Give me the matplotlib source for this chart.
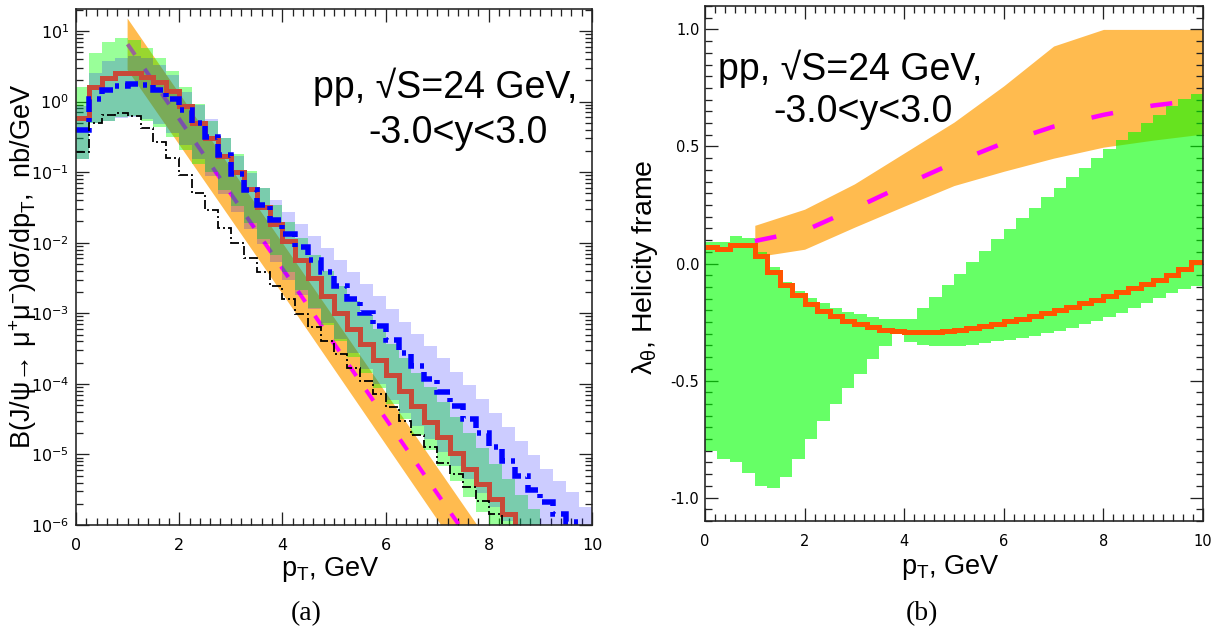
import numpy as np
import matplotlib
matplotlib.use("Agg")
import matplotlib.pyplot as plt
from matplotlib.ticker import LogLocator, NullFormatter, MultipleLocator

plt.rcParams["font.family"] = ["Liberation Sans", "DejaVu Sans"]
plt.rcParams["mathtext.default"] = "regular"
plt.rcParams["lines.scale_dashes"] = False

PX = 72 / 100  # points per pixel at dpi=100

# pT bins, GeV
pt_edges = np.arange(0, 10.001, 0.25)

# ---- panel (a): log10 of B*dsigma/dpT, nb/GeV, per 0.25 GeV bin ----
red_log = [-0.24, 0.20, 0.33, 0.41, 0.41, 0.35, 0.28, 0.15, -0.06, -0.30,
           -0.52, -0.77, -1.00, -1.24, -1.49, -1.74, -1.98, -2.24, -2.50, -2.75,
           -3.00, -3.22, -3.44, -3.66, -3.88, -4.10, -4.32, -4.54, -4.76, -4.98,
           -5.20, -5.42, -5.63, -5.85, -6.07, -6.28, -6.50, -6.70, -6.90, -7.10]
blue_log = [-0.40, 0.04, 0.16, 0.22, 0.25, 0.24, 0.16, 0.04, -0.12, -0.30,
            -0.50, -0.76, -1.02, -1.26, -1.47, -1.68, -1.88, -2.06, -2.24, -2.42,
            -2.61, -2.80, -2.99, -3.18, -3.38, -3.57, -3.75, -3.93, -4.12, -4.32,
            -4.50, -4.70, -4.90, -5.10, -5.30, -5.50, -5.68, -5.84, -5.96, -6.20]
black_log = [-0.72, -0.30, -0.19, -0.16, -0.21, -0.37, -0.58, -0.80, -1.04, -1.29,
             -1.53, -1.79, -2.00, -2.21, -2.42, -2.62, -2.80, -3.01, -3.19, -3.40,
             -3.58, -3.77, -3.96, -4.15, -4.33, -4.53, -4.72, -4.90, -5.12, -5.28,
             -5.46, -5.66, -5.85, -6.30, -6.50, -6.70, -6.90, -7.10, -7.30, -7.50]

green_hi = [0.21, 0.69, 0.84, 0.90, 0.87, 0.76, 0.62, 0.43, 0.20, -0.04,
            -0.27, -0.52, -0.75, -0.99, -1.23, -1.47, -1.70, -1.94, -2.17, -2.40,
            -2.62, -2.83, -3.03, -3.23, -3.43, -3.64, -3.84, -4.05, -4.26, -4.47,
            -4.69, -4.91, -5.13, -5.35, -5.57, -5.78, -6.00, -6.20, -6.40, -6.60]
green_lo = [-0.82, -0.31, -0.28, -0.22, -0.20, -0.27, -0.36, -0.50, -0.68, -0.88,
            -1.00, -1.25, -1.48, -1.72, -1.95, -2.18, -2.42, -2.67, -2.92, -3.16,
            -3.40, -3.62, -3.84, -4.06, -4.28, -4.50, -4.72, -4.94, -5.16, -5.38,
            -5.60, -5.82, -6.04, -6.26, -6.50, -6.70, -6.90, -7.10, -7.30, -7.50]
blue_hi = [-0.07, 0.41, 0.57, 0.62, 0.64, 0.62, 0.52, 0.38, 0.13, -0.05,
           -0.25, -0.51, -0.77, -1.01, -1.22, -1.40, -1.57, -1.73, -1.90, -2.07,
           -2.24, -2.41, -2.58, -2.76, -2.94, -3.12, -3.29, -3.46, -3.64, -3.83,
           -4.01, -4.21, -4.41, -4.61, -4.81, -5.01, -5.20, -5.37, -5.53, -5.75]
blue_lo = [-0.82, -0.31, -0.27, -0.24, -0.22, -0.25, -0.32, -0.44, -0.62, -0.82,
           -1.05, -1.31, -1.57, -1.81, -2.02, -2.28, -2.53, -2.74, -2.94, -3.14,
           -3.36, -3.57, -3.79, -4.00, -4.23, -4.42, -4.60, -4.78, -4.97, -5.17,
           -5.35, -5.55, -5.75, -5.95, -6.15, -6.35, -6.50, -6.70, -6.80, -7.00]

# orange band and its central (dashed) curve
orange_pt = [1, 4, 7, 10]
orange_hi = [15.0, 1.0e-2, 6.6e-6, 4.4e-9]
orange_lo = [2.8, 1.9e-3, 1.2e-6, 8.1e-10]
orange_mid = [6.5, 4.3e-3, 2.8e-6, 1.9e-9]

# ---- panel (b): lambda_theta, helicity frame ----
lam_red = [0.071, 0.061, 0.078, 0.080, 0.030, -0.036, -0.092, -0.136, -0.172, -0.202,
           -0.226, -0.245, -0.260, -0.273, -0.282, -0.288, -0.292, -0.294, -0.293, -0.289,
           -0.284, -0.277, -0.268, -0.258, -0.247, -0.236, -0.224, -0.211, -0.198, -0.184,
           -0.170, -0.155, -0.140, -0.123, -0.106, -0.089, -0.070, -0.048, -0.025, 0.005]
lam_hi = [0.090, 0.090, 0.118, 0.109, 0.050, -0.015, -0.078, -0.118, -0.146, -0.170,
          -0.191, -0.206, -0.217, -0.227, -0.238, -0.238, -0.236, -0.191, -0.142, -0.092,
          -0.043, 0.007, 0.054, 0.103, 0.149, 0.194, 0.238, 0.284, 0.322, 0.369,
          0.409, 0.450, 0.489, 0.528, 0.563, 0.600, 0.635, 0.674, 0.702, 0.726]
lam_lo = [-0.801, -0.834, -0.848, -0.894, -0.950, -0.957, -0.911, -0.834, -0.749, -0.674,
          -0.599, -0.532, -0.471, -0.409, -0.352, -0.300, -0.335, -0.348, -0.352, -0.352,
          -0.352, -0.348, -0.340, -0.333, -0.326, -0.319, -0.308, -0.298, -0.288, -0.274,
          -0.260, -0.245, -0.230, -0.210, -0.191, -0.170, -0.149, -0.128, -0.110, -0.095]

lam_orange_pt = [1, 2, 3, 4, 5, 6, 7, 8, 9, 10]
lam_orange_hi = [0.163, 0.232, 0.340, 0.472, 0.604, 0.759, 0.929, 1.0, 1.0, 1.0]
lam_orange_lo = [0.028, 0.061, 0.155, 0.245, 0.333, 0.394, 0.450, 0.497, 0.527, 0.553]
lam_orange_mid = [0.096, 0.140, 0.235, 0.335, 0.430, 0.515, 0.585, 0.635, 0.675, 0.700]

ORANGE = "#ffbb4f"
MAGENTA = "#ff00ff"

fig = plt.figure(figsize=(12.25, 6.39), dpi=100)
W, H = 1225, 639


def fx(x):
    return x / W


def fy(y):
    return 1 - y / H


ax1 = fig.add_axes([fx(76), fy(525), 516 / W, 516 / H])
ax2 = fig.add_axes([fx(705), fy(521), 498 / W, 515 / H])

# ---------------- panel (a) ----------------
exp10 = lambda v: 10.0 ** np.asarray(v)

ax1.fill_between(orange_pt, orange_lo, orange_hi, color=ORANGE, lw=0, zorder=1)
ax1.plot(orange_pt, orange_mid, color=MAGENTA, lw=4 * PX,
         linestyle=(0, (13 * PX, 17 * PX)), zorder=2)
ax1.stairs(exp10(green_hi), pt_edges, baseline=exp10(green_lo), fill=True,
           color=(0, 1, 0, 0.4), lw=0, zorder=3)
ax1.stairs(exp10(blue_hi), pt_edges, baseline=exp10(blue_lo), fill=True,
           color=(0, 0, 1, 0.2), lw=0, zorder=4)

red_line = ax1.stairs(exp10(red_log), pt_edges, baseline=None, color="#c84a38",
                      lw=5 * PX, zorder=5)
blue_line = ax1.stairs(exp10(blue_log), pt_edges, baseline=None, color="#0000ff",
                       lw=5.5 * PX, linestyle=(0, (15 * PX, 6 * PX, 4 * PX, 6 * PX)),
                       zorder=6)
black_line = ax1.stairs(exp10(black_log), pt_edges, baseline=None, color="black",
                        lw=1.8 * PX, linestyle=(0, (9 * PX, 3 * PX, 2 * PX, 3 * PX)),
                        zorder=7)
for ln in (red_line, blue_line, black_line):
    ln.set_joinstyle("miter")

ax1.set_yscale("log")
ax1.set_xlim(0, 10)
ax1.set_ylim(1e-6, 10 ** 1.311)
ax1.xaxis.set_major_locator(MultipleLocator(2))
ax1.xaxis.set_minor_locator(MultipleLocator(0.2))
ax1.yaxis.set_major_locator(LogLocator(base=10, numticks=20))
ax1.yaxis.set_minor_locator(LogLocator(base=10, subs=np.arange(2, 10), numticks=100))
ax1.yaxis.set_minor_formatter(NullFormatter())
ax1.tick_params(which="major", length=13 * PX, width=1.3 * PX)
ax1.tick_params(which="minor", length=7 * PX, width=1.3 * PX)
ax1.tick_params(axis="x", which="major", pad=9, labelsize=11.5)
ax1.tick_params(axis="y", which="major", pad=5, labelsize=11.5)

ax1.text(fx(313), fy(98), "pp, √S=24 GeV,", transform=fig.transFigure,
         fontsize=27, ha="left", va="baseline")
ax1.text(fx(368), fy(143), "-3.0<y<3.0", transform=fig.transFigure,
         fontsize=27, ha="left", va="baseline")

# ---------------- panel (b) ----------------
ax2.fill_between(lam_orange_pt, lam_orange_lo, lam_orange_hi, color=ORANGE, lw=0, zorder=1)
ax2.stairs(lam_hi, pt_edges, baseline=lam_lo, fill=True,
           color=(0, 1, 0, 0.6), lw=0, zorder=2)
ax2.plot(lam_orange_pt, lam_orange_mid, color=MAGENTA, lw=4.5 * PX,
         linestyle=(0, (22 * PX, 38 * PX)), zorder=3)
lam_line = ax2.stairs(lam_red, pt_edges, baseline=None, color="#ff5500",
                      lw=5 * PX, zorder=4)
lam_line.set_joinstyle("miter")

ax2.set_xlim(0, 10)
ax2.set_ylim(-1.1, 1.1)
ax2.xaxis.set_major_locator(MultipleLocator(2))
ax2.xaxis.set_minor_locator(MultipleLocator(0.2))
ax2.yaxis.set_major_locator(MultipleLocator(0.5))
ax2.yaxis.set_minor_locator(MultipleLocator(0.05))
ax2.yaxis.set_major_formatter(lambda v, p: f"{v:.1f}")
ax2.tick_params(which="major", length=13 * PX, width=1.3 * PX)
ax2.tick_params(which="minor", length=7 * PX, width=1.3 * PX)
ax2.tick_params(axis="x", which="major", pad=9, labelsize=10.5)
ax2.tick_params(axis="y", which="major", pad=4, labelsize=10.5)

ax2.text(fx(718), fy(80), "pp, √S=24 GeV,", transform=fig.transFigure,
         fontsize=27, ha="left", va="baseline")
ax2.text(fx(773), fy(122), "-3.0<y<3.0", transform=fig.transFigure,
         fontsize=27, ha="left", va="baseline")

for ax in (ax1, ax2):
    ax.tick_params(which="both", direction="in", top=True, right=True,
                   labelfontfamily="DejaVu Sans", color="#222222")
    for sp in ax.spines.values():
        sp.set_linewidth(1.6 * PX)
        sp.set_color("#222222")
        sp.set_zorder(10)

# axis titles
fig.text(fx(330), fy(570), "p$_{T}$, GeV", fontsize=19.5, ha="center", va="center")
fig.text(fx(950), fy(567), "p$_{T}$, GeV", fontsize=19.5, ha="center", va="center")
fig.text(fx(23), fy(266), "B(J/ψ→ μ$^{+}$μ$^{-}$)dσ/dp$_{T}$,  nb/GeV", fontsize=19.5,
         rotation=90, ha="center", va="center")
fig.text(fx(645), fy(267), "λ$_{θ}$, Helicity frame", fontsize=20.5,
         rotation=90, ha="center", va="center")

# panel tags
fig.text(fx(306), fy(614), "(a)", fontsize=20, family="Liberation Serif",
         ha="center", va="center")
fig.text(fx(922), fy(614), "(b)", fontsize=20, family="Liberation Serif",
         ha="center", va="center")

fig.savefig("out.png", dpi=100)
